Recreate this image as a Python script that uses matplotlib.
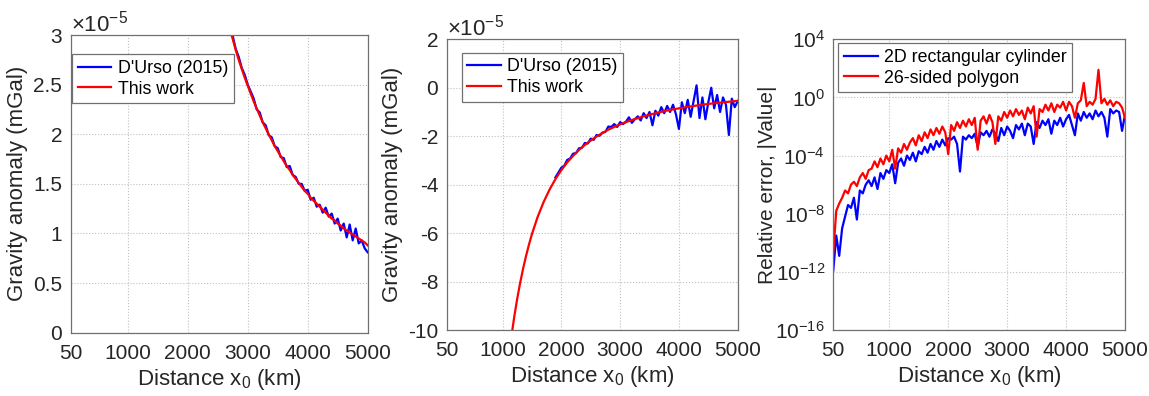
import numpy as np
import matplotlib
matplotlib.use("Agg")
import matplotlib.pyplot as plt
from matplotlib.ticker import FixedLocator, FixedFormatter

plt.rcParams['font.family'] = ['Liberation Sans', 'DejaVu Sans']
plt.rcParams['axes.unicode_minus'] = False
plt.rcParams['mathtext.fontset'] = 'custom'
plt.rcParams['mathtext.rm'] = 'Liberation Sans'
plt.rcParams['mathtext.it'] = 'Liberation Sans:italic'

# ---------------- data ----------------
# Panel 1 (values in units of 1e-5 mGal)
x1_red = [2650, 2700, 2750, 2800, 2850, 2900, 2950, 3000, 3050, 3100, 3150, 3200,
          3250, 3300, 3350, 3400, 3450, 3500, 3550, 3600, 3650, 3700, 3750, 3800,
          3850, 3900, 3950, 4000, 4050, 4100, 4150, 4200, 4250, 4300, 4350, 4400,
          4450, 4500, 4550, 4600, 4650, 4700, 4750, 4800, 4850, 4900, 4950, 5000]
y1_red = [3.17, 3.06, 2.96, 2.85, 2.75, 2.66, 2.57, 2.49, 2.41, 2.33, 2.26, 2.19,
          2.12, 2.06, 2.00, 1.94, 1.88, 1.83, 1.78, 1.73, 1.68, 1.64, 1.59, 1.55,
          1.51, 1.47, 1.43, 1.40, 1.36, 1.33, 1.30, 1.27, 1.24, 1.21, 1.18, 1.15,
          1.13, 1.10, 1.08, 1.05, 1.03, 1.01, 0.99, 0.97, 0.95, 0.93, 0.91, 0.88]
x1_blue = x1_red
y1_blue = [3.22, 3.08, 2.99, 2.86, 2.78, 2.67, 2.60, 2.50, 2.43, 2.36, 2.25, 2.22,
           2.12, 2.09, 1.99, 1.97, 1.88, 1.86, 1.77, 1.76, 1.67, 1.68, 1.59, 1.57,
           1.50, 1.50, 1.43, 1.44, 1.34, 1.36, 1.27, 1.29, 1.21, 1.26, 1.17, 1.20,
           1.10, 1.15, 1.03, 1.10, 0.96, 1.09, 0.93, 1.05, 0.90, 0.93, 0.85, 0.81]

# Panel 2 (values in units of 1e-5 mGal)
x2_red = [1150, 1200, 1250, 1300, 1350, 1400, 1450, 1500, 1600, 1700, 1800, 1900,
          2000, 2100, 2200, 2300, 2400, 2500, 2600, 2700, 2800, 2900, 3000, 3200,
          3400, 3600, 3800, 4000, 4200, 4400, 4600, 4800, 5000]
y2_red = [-10.28, -9.44, -8.70, -8.05, -7.46, -6.94, -6.47, -6.04, -5.31, -4.71,
          -4.20, -3.77, -3.40, -3.08, -2.81, -2.57, -2.36, -2.18, -2.01, -1.87,
          -1.73, -1.62, -1.51, -1.33, -1.18, -1.05, -0.94, -0.85, -0.77, -0.70,
          -0.64, -0.59, -0.54]
x2_blue = list(range(1900, 5001, 50))
y2_blue = [-3.70, -3.50, -3.30, -3.22, -2.98, -2.92, -2.72, -2.70, -2.50, -2.48,
           -2.28, -2.30, -2.10, -2.15, -1.95, -1.98, -1.85, -1.82, -1.60, -1.62,
           -1.50, -1.62, -1.42, -1.50, -1.40, -1.22, -1.45, -1.30, -1.18, -1.35,
           -1.05, -1.25, -1.00, -1.55, -0.95, -1.15, -0.80, -1.05, -0.75, -1.00,
           -0.70, -1.10, -1.70, -0.60, -1.05, -0.50, -1.20, -0.55, 0.10, -1.25,
           -0.40, -1.30, -0.60, 0.00, -0.85, -0.30, -1.00, -0.40, -0.70, -1.95,
           -0.45, -0.80, -0.55]

# Panel 3 (log10 of relative error)
x3 = list(range(50, 5001, 50))
log_err_rect = [-11.9, -9.5, -10.9, -9.0, -8.2, -7.4, -7.6, -6.9, -8.4, -6.4,
                -6.6, -6.0, -5.7, -6.1, -5.5, -6.3, -5.2, -5.6, -5.0, -5.2,
                -4.6, -5.9, -4.5, -4.2, -4.7, -4.0, -4.3, -3.8, -4.4, -3.7,
                -3.9, -3.4, -3.8, -3.2, -3.6, -3.0, -3.4, -2.9, -3.3, -2.8,
                -2.9, -2.7, -3.2, -5.1, -2.7, -2.9, -2.6, -2.8, -2.5, -3.4,
                -2.4, -2.6, -2.3, -2.7, -2.2, -2.5, -3.0, -2.1, -2.6, -2.0,
                -2.3, -2.8, -1.9, -2.2, -1.8, -2.6, -1.8, -2.0, -3.2, -1.7,
                -2.1, -1.6, -1.9, -1.5, -2.5, -1.6, -1.9, -1.4, -2.0, -1.5,
                -1.2, -1.9, -2.6, -1.1, -1.6, -1.0, -1.4, -1.1, -1.5, -0.9,
                -1.3, -1.0, -1.4, -2.7, -0.8, -1.1, -0.9, -1.0, -2.3, -1.2]
log_err_poly = [-10.7, -7.8, -7.3, -6.9, -6.4, -6.6, -6.0, -5.8, -6.1, -5.5,
                -5.2, -5.6, -5.0, -4.9, -4.4, -4.8, -4.2, -4.6, -4.0, -4.4,
                -3.6, -4.9, -3.5, -3.8, -3.2, -3.6, -3.1, -2.8, -3.3, -2.6,
                -3.0, -2.4, -2.8, -2.2, -2.6, -2.1, -2.5, -2.0, -2.4, -3.9,
                -1.9, -2.3, -1.7, -2.1, -1.6, -2.0, -1.5, -1.9, -1.4, -3.6,
                -1.6, -1.3, -1.8, -1.2, -1.7, -3.2, -1.3, -1.6, -1.0, -1.4,
                -0.9, -1.3, -0.8, -1.2, -0.9, -1.5, -0.7, -1.1, -0.6, -2.7,
                -0.8, -1.0, -0.5, -0.9, -0.4, -1.0, -0.5, -0.7, -0.3, -0.9,
                -0.3, -0.6, -1.4, -0.4, -0.2, 1.0, -0.6, -0.3, -0.5, -0.1,
                1.9, -0.4, -0.1, -0.5, -0.2, -0.6, -0.3, -0.4, -0.7, -1.4]

x_ticks = [50, 1000, 2000, 3000, 4000, 5000]
y1_ticks = [0, 0.5, 1, 1.5, 2, 2.5, 3]
y1_labels = ['0', '0.5', '1', '1.5', '2', '2.5', '3']
y2_ticks = [-10, -8, -6, -4, -2, 0, 2]
y3_exps = [-16, -12, -8, -4, 0, 4]

BLUE = '#0000FF'
RED = '#FF0000'
LW = 1.6
TICK_FS = 15
LABEL_FS = 16
LEG_FS = 12.8
TXT = '#262626'
FRAME = '#707070'

fig = plt.figure(figsize=(11.49, 3.96), dpi=100)
W, H = 1149.0, 396.0

def make_ax(l, t, r, b):
    return fig.add_axes([l / W, 1 - b / H, (r - l) / W, (b - t) / H])

ax1 = make_ax(70.7, 35.0, 367.7, 332.7)
ax2 = make_ax(446.7, 39.3, 737.7, 330.0)
ax3 = make_ax(833.3, 39.3, 1125.0, 330.0)

def style(ax):
    for s in ax.spines.values():
        s.set_color(FRAME)
        s.set_linewidth(0.9)
    ax.tick_params(direction='in', length=0, labelsize=TICK_FS, labelcolor=TXT)
    ax.tick_params(axis='x', pad=8)
    ax.tick_params(axis='y', pad=6)
    ax.grid(True, color='#c0c0c0', linestyle=':', linewidth=0.8)
    ax.set_axisbelow(True)
    ax.set_xlim(50, 5000)
    ax.xaxis.set_major_locator(FixedLocator(x_ticks))
    ax.xaxis.set_major_formatter(FixedFormatter([str(v) for v in x_ticks]))
    ax.set_xlabel('Distance x$_0$ (km)', fontsize=LABEL_FS, color=TXT, labelpad=3)

def legend(ax, fx, fy):
    lg = ax.legend(loc='upper left', bbox_to_anchor=(fx, fy), borderaxespad=0,
                   fontsize=LEG_FS, fancybox=False, framealpha=1, edgecolor=FRAME,
                   handlelength=1.9, handletextpad=0.35, borderpad=0.32, labelspacing=0.22)
    lg.get_frame().set_linewidth(0.9)

def exponent_text(ax):
    ax.text(0.0, 0.995, r'$\times$10$^{-5}$', transform=ax.transAxes, fontsize=16,
            color=TXT, ha='left', va='bottom')

# Panel 1
ax1.plot(x1_blue, y1_blue, color=BLUE, lw=LW, label="D'Urso (2015)")
ax1.plot(x1_red, y1_red, color=RED, lw=LW, label='This work')
style(ax1)
ax1.set_ylim(0, 3)
ax1.yaxis.set_major_locator(FixedLocator(y1_ticks))
ax1.yaxis.set_major_formatter(FixedFormatter(y1_labels))
ax1.set_ylabel('Gravity anomaly (mGal)', fontsize=LABEL_FS, color=TXT)
exponent_text(ax1)
legend(ax1, 0.004, 0.936)

# Panel 2
ax2.plot(x2_blue, y2_blue, color=BLUE, lw=LW, label="D'Urso (2015)")
ax2.plot(x2_red, y2_red, color=RED, lw=LW, label='This work')
style(ax2)
ax2.set_ylim(-10, 2)
ax2.yaxis.set_major_locator(FixedLocator(y2_ticks))
ax2.yaxis.set_major_formatter(FixedFormatter([str(v) for v in y2_ticks]))
ax2.set_ylabel('Gravity anomaly (mGal)', fontsize=LABEL_FS, color=TXT)
exponent_text(ax2)
legend(ax2, 0.0515, 0.954)

# Panel 3
ax3.semilogy(x3, 10.0 ** np.array(log_err_rect), color=BLUE, lw=LW,
             label='2D rectangular cylinder')
ax3.semilogy(x3, 10.0 ** np.array(log_err_poly), color=RED, lw=LW,
             label='26-sided polygon')
style(ax3)
ax3.set_ylim(1e-16, 1e4)
ax3.yaxis.set_major_locator(FixedLocator([10.0 ** e for e in y3_exps]))
ax3.yaxis.set_major_formatter(FixedFormatter(['10$^{%d}$' % e for e in y3_exps]))
ax3.yaxis.set_minor_locator(FixedLocator([]))
ax3.set_ylabel('Relative error, |Value|', fontsize=15, color=TXT, labelpad=-1)
legend(ax3, 0.017, 0.987)

fig.savefig('out.png', dpi=100)
